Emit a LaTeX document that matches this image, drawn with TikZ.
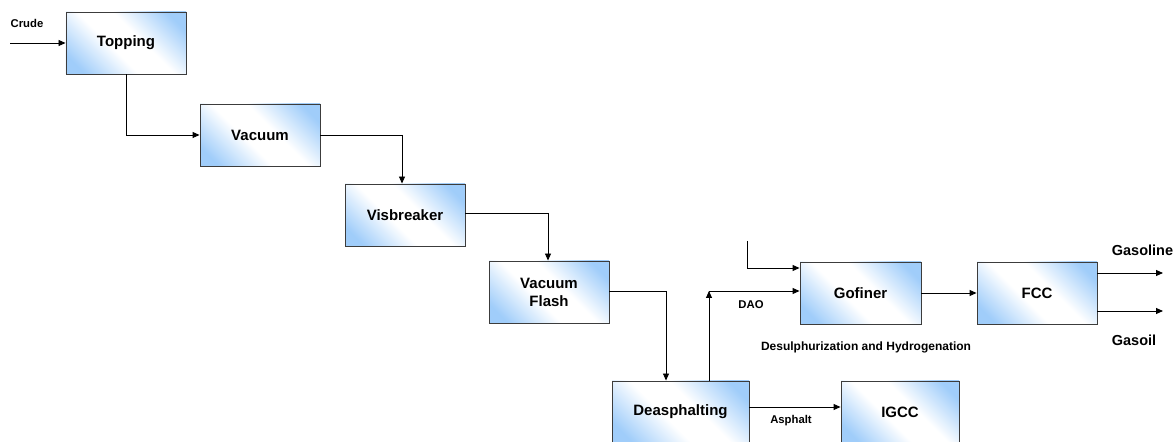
\documentclass[tikz,border=0pt]{standalone}
\usepackage{fontspec}
\setmainfont{Liberation Sans}
\usetikzlibrary{arrows.meta}
\definecolor{bb}{RGB}{160,205,250}
\definecolor{edge}{RGB}{60,60,60}
\pgfdeclarehorizontalshading{boxshade}{100bp}{color(0bp)=(bb); color(22bp)=(bb); color(43bp)=(white); color(57bp)=(white); color(78bp)=(bb); color(100bp)=(bb)}
\tikzset{
  proc/.style={draw=edge, line width=0.9bp, shading=boxshade, shading angle=45,
    minimum width=120bp, minimum height=62bp, inner sep=0pt, align=center,
    font=\fontsize{15bp}{17bp}\selectfont\bfseries},
  flow/.style={line width=0.9bp, -{Triangle[length=7bp,width=6bp]}},
  seg/.style={line width=0.9bp},
  lab/.style={font=\fontsize{11.3bp}{13bp}\selectfont\bfseries, inner sep=0pt},
  biglab/.style={font=\fontsize{14.5bp}{16bp}\selectfont\bfseries, inner sep=0pt}
}
\begin{document}
\begin{tikzpicture}[x=1bp,y=-1bp]
\useasboundingbox (0,0) rectangle (1175,442);
\node[proc] (top) at (126,43) {Topping};
\node[proc] (vac) at (260,135) {Vacuum};
\node[proc] (vis) at (405,215) {Visbreaker};
\node[proc] (vf) at (549,292) {Vacuum\\[1bp]Flash};
\node[proc, minimum width=137bp] (dea) at (680.5,412) {Deasphalting};
\node[proc, minimum width=118bp] (igcc) at (900,412) {IGCC};
\node[proc, minimum width=121bp] (gof) at (860.5,293) {Gofiner};
\node[proc] (fcc) at (1037,293) {FCC};

\coordinate (crudeIn) at (10,43);
\node[lab] (crude) at (27,23) {Crude};
\draw[flow] (crudeIn) -- (top.west);

\draw[flow] (top.south) |- (vac.west);
\coordinate (c1) at (402,135);
\draw[seg] (vac.east) -- (c1);
\draw[flow] (c1) -- (vis.north -| c1);
\coordinate (c2) at (548,213);
\draw[seg] (vis.east |- c2) -- (c2);
\draw[flow] (c2) -- (vf.north -| c2);
\coordinate (c3) at (666,291);
\draw[seg] (vf.east |- c3) -- (c3);
\draw[flow] (c3) -- (dea.north -| c3);

\coordinate (c4) at (709,291);
\draw[flow] (dea.north -| c4) -- (c4);
\draw[flow] (c4) -- (gof.west |- c4);
\node[lab] (dao) at (751,305) {DAO};

\coordinate (extIn) at (747,241);
\coordinate (c5) at (747,268);
\draw[seg] (extIn) -- (c5);
\draw[flow] (c5) -- (gof.west |- c5);

\draw[flow] (gof.east) -- (fcc.west);
\node[lab, font=\fontsize{12bp}{14bp}\selectfont\bfseries] (desul) at (866,347) {Desulphurization and Hydrogenation};

\coordinate (gl) at (1163,273);
\coordinate (go) at (1163,311);
\draw[flow] (fcc.east |- gl) -- (gl);
\draw[flow] (fcc.east |- go) -- (go);
\node[biglab] (gasoline) at (1142.5,250) {Gasoline};
\node[biglab] (gasoil) at (1134,340) {Gasoil};

\coordinate (c6) at (749,407);
\draw[flow] (c6) -- (igcc.west |- c6);
\node[lab] (asph) at (791,421) {Asphalt};
\end{tikzpicture}
\end{document}
